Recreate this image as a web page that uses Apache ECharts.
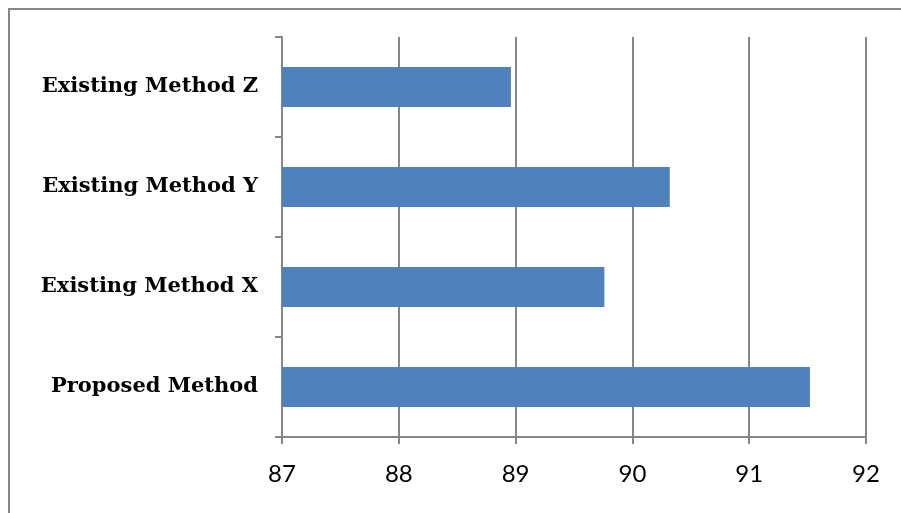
<!DOCTYPE html>
<html>
<head>
<meta charset="utf-8">
<script src="https://cdn.jsdelivr.net/npm/echarts@6/dist/echarts.min.js"></script>
<style>
  html, body { margin: 0; padding: 0; background: #fff; }
  #chart { width: 901px; height: 513px; }
</style>
</head>
<body>
<div id="chart"></div>
<script>
// bottom to top, as drawn
const methods = ['Proposed Method', 'Existing Method X', 'Existing Method Y', 'Existing Method Z']
const scores = [91.52, 89.76, 90.32, 88.96]
const GRAY = '#868686'

const chart = echarts.init(document.getElementById('chart'))

const option = {
    animation: false,
    backgroundColor: '#fff',
    graphic: [{
        type: 'rect',
        shape: { x: 9, y: 9, width: 905, height: 520 },
        style: { fill: 'none', stroke: GRAY, lineWidth: 2 }
    }],
    grid: { left: 282, top: 37, right: 35, bottom: 76 },
    xAxis: {
        type: 'value',
        min: 87,
        max: 92,
        interval: 1,
        axisLine: { show: true, lineStyle: { color: GRAY, width: 2 } },
        axisTick: { show: true, length: 7, lineStyle: { color: GRAY, width: 2 } },
        splitLine: { show: true, lineStyle: { color: GRAY, width: 2 } },
        axisLabel: { color: '#000', fontSize: 24, fontFamily: 'Lato', margin: 25 }
    },
    yAxis: {
        type: 'category',
        data: methods,
        axisLine: { show: true, lineStyle: { color: GRAY, width: 2 } },
        axisTick: { show: true, length: 7, lineStyle: { color: GRAY, width: 2 } },
        axisLabel: {
            color: '#000', fontSize: 21, fontWeight: 'bold',
            fontFamily: 'DejaVu Serif', margin: 24
        }
    },
    series: [{
        type: 'bar',
        data: scores,
        barCategoryGap: '60%',
        itemStyle: { color: '#4f81bd' }
    }]
}

chart.setOption(option)
</script>
</body>
</html>
